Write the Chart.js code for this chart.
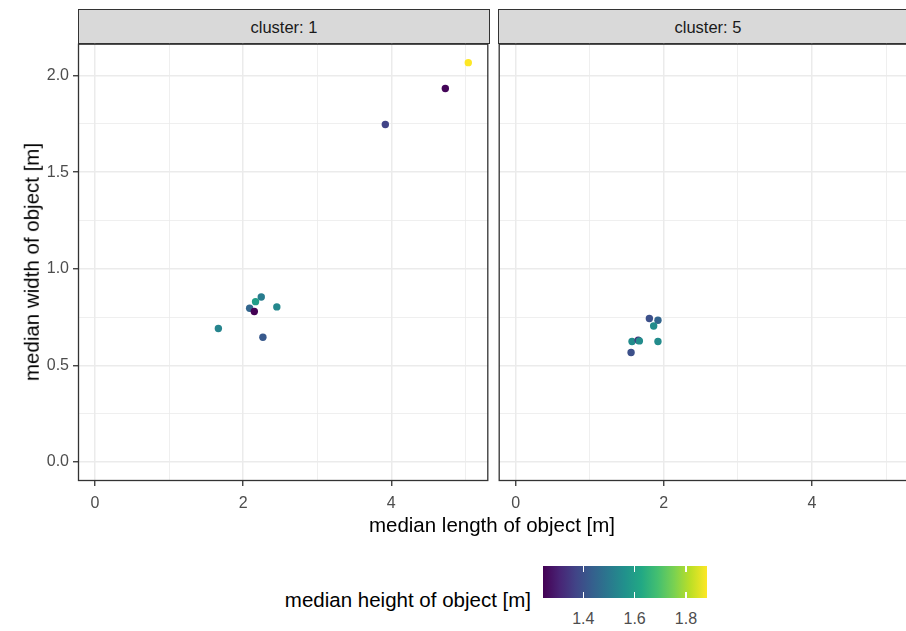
<!DOCTYPE html>
<html>
<head>
<meta charset="utf-8">
<script src="https://cdn.jsdelivr.net/npm/chart.js@4.4.1/dist/chart.umd.min.js"></script>
<style>
  html, body { margin: 0; padding: 0; background: #fff; width: 906px; height: 631px; overflow: hidden; }
  body { position: relative; font-family: 'Liberation Sans', Arial, sans-serif; }
  .abs { position: absolute; }
  .strip { position: absolute; top: 9px; height: 35px; background: #d9d9d9; border: 1px solid #333;
           box-sizing: border-box; font-size: 16.5px; color: #1a1a1a; text-align: center; line-height: 35px; }
  .title { position: absolute; font-size: 20.5px; color: #000; white-space: nowrap; line-height: 1; }
  .ctick { position: absolute; font-size: 16px; color: #4d4d4d; transform: translate(-50%, -50%); line-height: 1; }
</style>
</head>
<body>
<div class="strip" style="left:78px;width:412px;">cluster: 1</div>
<div class="strip" style="left:498px;width:420px;">cluster: 5</div>
<canvas id="c1" class="abs" style="left:0;top:40px;"></canvas>
<canvas id="c5" class="abs" style="left:495px;top:40px;"></canvas>
<div class="title" style="left:32px;top:262px;transform:translate(-50%,-50%) rotate(-90deg);">median width of object [m]</div>
<div class="title" style="left:492px;top:525px;transform:translate(-50%,-50%);">median length of object [m]</div>
<div class="title" style="left:531px;top:600px;transform:translate(-100%,-50%);">median height of object [m]</div>
<div id="legend"></div>
<script>
// cluster 1
const cluster1Length = [1.666, 2.088, 2.245, 2.168, 2.151, 2.455, 2.267, 3.92, 4.73, 5.04];
const cluster1Width  = [0.691, 0.796, 0.854, 0.830, 0.779, 0.803, 0.646, 1.747, 1.933, 2.067];
const cluster1Height = [1.53, 1.45, 1.51, 1.595, 1.243, 1.54, 1.42, 1.37, 1.25, 1.882];
// cluster 5
const cluster5Length = [1.805, 1.921, 1.863, 1.571, 1.655, 1.670, 1.921, 1.558];
const cluster5Width  = [0.743, 0.734, 0.704, 0.624, 0.631, 0.627, 0.624, 0.567];
const cluster5Height = [1.40, 1.45, 1.55, 1.55, 1.33, 1.55, 1.55, 1.40];

const xTicks = [0, 1, 2, 3, 4, 5];
const yTicks = [0, 0.25, 0.5, 0.75, 1, 1.25, 1.5, 1.75, 2];
const colorTicks = [1.4, 1.6, 1.8];
const heightRange = [1.243, 1.882];
const xRange = [-0.229, 5.31];
const yRange = [-0.098, 2.165];

const viridis = ['#440154', '#482475', '#414487', '#355f8d', '#2a788e', '#21918c',
                 '#22a884', '#44bf70', '#7ad151', '#bddf26', '#fde725'];

function hex2rgb(h) {
  return [1, 3, 5].map(i => parseInt(h.slice(i, i + 2), 16));
}
function viridisColor(v) {
  let t = (v - heightRange[0]) / (heightRange[1] - heightRange[0]);
  t = Math.max(0, Math.min(1, t)) * (viridis.length - 1);
  const i = Math.min(Math.floor(t), viridis.length - 2);
  const f = t - i;
  const a = hex2rgb(viridis[i]), b = hex2rgb(viridis[i + 1]);
  const c = a.map((x, k) => Math.round(x + (b[k] - x) * f));
  return `rgb(${c[0]},${c[1]},${c[2]})`;
}

const tickFont = { family: "'Liberation Sans', Arial, sans-serif", size: 16 };
const isMajorY = v => Math.abs(v * 2 - Math.round(v * 2)) < 1e-6;

const panelBorder = {
  id: 'panelBorder',
  afterDraw(chart) {
    const { ctx, chartArea: a } = chart;
    ctx.save();
    ctx.strokeStyle = '#333';
    ctx.lineWidth = 1.3;
    ctx.strokeRect(a.left + 0.5, a.top + 0.5, a.right - a.left - 1, a.bottom - a.top - 1);
    ctx.restore();
  }
};

function makePanel(id, xs, ys, hs, showY, w, pad) {
  const el = document.getElementById(id);
  el.width = w; el.height = 500;
  el.style.width = w + 'px'; el.style.height = '500px';
  return new Chart(el, {
    type: 'scatter',
    data: {
      datasets: [{
        data: xs.map((x, i) => ({ x, y: ys[i] })),
        backgroundColor: hs.map(viridisColor),
        borderWidth: 0,
        pointRadius: 3.7,
        pointHoverRadius: 3.7
      }]
    },
    options: {
      responsive: false,
      animation: false,
      events: [],
      layout: { padding: pad },
      plugins: { legend: { display: false }, tooltip: { enabled: false } },
      scales: {
        x: {
          type: 'linear', min: xRange[0], max: xRange[1],
          afterBuildTicks: s => { s.ticks = xTicks.map(v => ({ value: v })); },
          afterFit: s => { s.height = 59; s.paddingLeft = 0; s.paddingRight = 0; },
          border: { display: false },
          grid: {
            color: '#ebebeb',
            lineWidth: c => (c.tick && c.tick.value % 2 === 0) ? 1.5 : 0.8,
            tickColor: c => (c.tick && c.tick.value % 2 === 0) ? '#333' : 'rgba(0,0,0,0)',
            tickLength: 5, tickWidth: 1.3
          },
          ticks: {
            font: tickFont, color: '#4d4d4d', padding: 8, maxRotation: 0, autoSkip: false,
            callback: v => v % 2 === 0 ? String(v) : ''
          }
        },
        y: {
          type: 'linear', min: yRange[0], max: yRange[1],
          afterBuildTicks: s => { s.ticks = yTicks.map(v => ({ value: v })); },
          afterFit: s => { s.width = showY ? 78 : 0; s.paddingTop = 0; s.paddingBottom = 0; },
          border: { display: false },
          grid: {
            color: '#ebebeb',
            drawTicks: showY,
            lineWidth: c => (c.tick && isMajorY(c.tick.value)) ? 1.5 : 0.8,
            tickColor: c => (c.tick && isMajorY(c.tick.value)) ? '#333' : 'rgba(0,0,0,0)',
            tickLength: 5, tickWidth: 1.3
          },
          ticks: {
            display: showY, font: tickFont, color: '#4d4d4d', padding: 4, autoSkip: false,
            callback: v => isMajorY(v) ? v.toFixed(1) : ''
          }
        }
      }
    },
    plugins: [panelBorder]
  });
}

makePanel('c1', cluster1Length, cluster1Width, cluster1Height, true, 492, { top: 3, right: 3, left: 0, bottom: 0 });
makePanel('c5', cluster5Length, cluster5Width, cluster5Height, false, 420, { top: 3, right: 6, left: 3, bottom: 0 });

// colour bar legend
const bar = { left: 543, top: 566, width: 164, height: 32 };
const legend = document.getElementById('legend');
const stops = viridis.map((c, i) => `${c} ${(i / (viridis.length - 1) * 100).toFixed(1)}%`).join(',');
let html = `<div class="abs" style="left:${bar.left}px;top:${bar.top}px;width:${bar.width}px;height:${bar.height}px;background:linear-gradient(to right,${stops});"></div>`;
colorTicks.forEach(v => {
  const x = bar.left + (v - heightRange[0]) / (heightRange[1] - heightRange[0]) * bar.width;
  html += `<div class="abs" style="left:${x - 0.5}px;top:${bar.top}px;width:1.3px;height:6px;background:#fff;"></div>`;
  html += `<div class="abs" style="left:${x - 0.5}px;top:${bar.top + bar.height - 6}px;width:1.3px;height:6px;background:#fff;"></div>`;
  html += `<div class="ctick" style="left:${x}px;top:${bar.top + bar.height + 21}px;">${v.toFixed(1)}</div>`;
});
legend.innerHTML = html;
</script>
</body>
</html>
